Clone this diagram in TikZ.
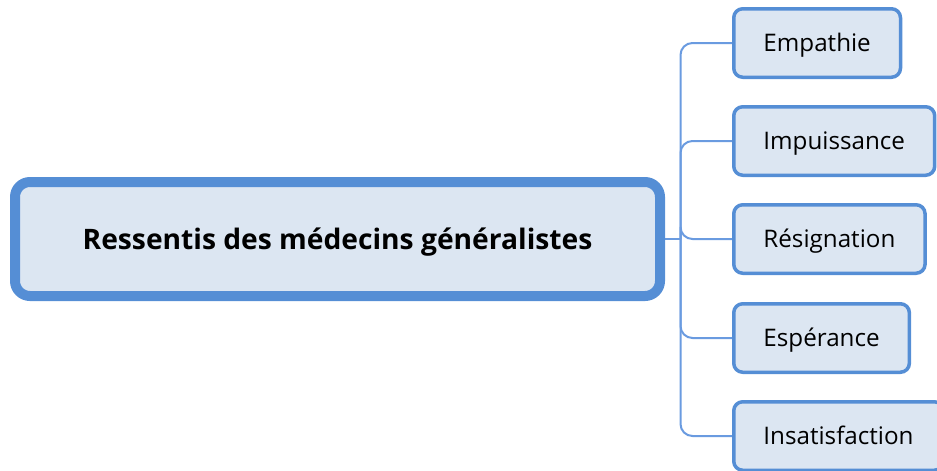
\documentclass[tikz,border=0pt]{standalone}
\usepackage{fontspec}
\setmainfont{Open Sans}
\usetikzlibrary{backgrounds}
\definecolor{mapblue}{HTML}{558ED5}
\definecolor{linkblue}{HTML}{6A9BE0}
\definecolor{mapfill}{HTML}{DCE6F2}
\tikzset{
  root/.style={draw=mapblue, fill=mapfill, line width=10pt, rounded corners=15pt,
    minimum width=645pt, minimum height=114pt, outer sep=0pt,
    text height=20pt, text depth=0pt,
    font=\bfseries\fontsize{28.2}{32}\selectfont},
  leaf/.style={draw=mapblue, fill=mapfill, line width=3.5pt, rounded corners=9pt,
    minimum height=68.5pt, inner xsep=29.7pt, outer sep=0pt, anchor=west,
    text height=16pt, text depth=0pt,
    font=\fontsize{24.2}{28}\selectfont},
  link/.style={draw=linkblue, line width=2pt, rounded corners=12pt}
}
\begin{document}
\begin{tikzpicture}[x=1pt,y=-1pt]
  \useasboundingbox (0,0) rectangle (937,471);
  \node[root] (ressentis) at (337.5,239) {Ressentis des médecins généralistes};
  \coordinate (fork) at (680.5,239);
  \node[leaf] (empathie) at (733.75,43) {Empathie};
  \node[leaf] (impuissance) at (733.75,141) {Impuissance};
  \node[leaf] (resignation) at (733.75,239) {Résignation};
  \node[leaf] (esperance) at (733.75,338) {Espérance};
  \node[leaf] (insatisfaction) at (733.75,436) {Insatisfaction};
  \begin{pgfonlayer}{background}
    \draw[link] (ressentis.east) -- (fork);
    \foreach \n in {empathie,impuissance,resignation,esperance,insatisfaction}
      \draw[link] (fork) |- (\n.west);
  \end{pgfonlayer}
\end{tikzpicture}
\end{document}
